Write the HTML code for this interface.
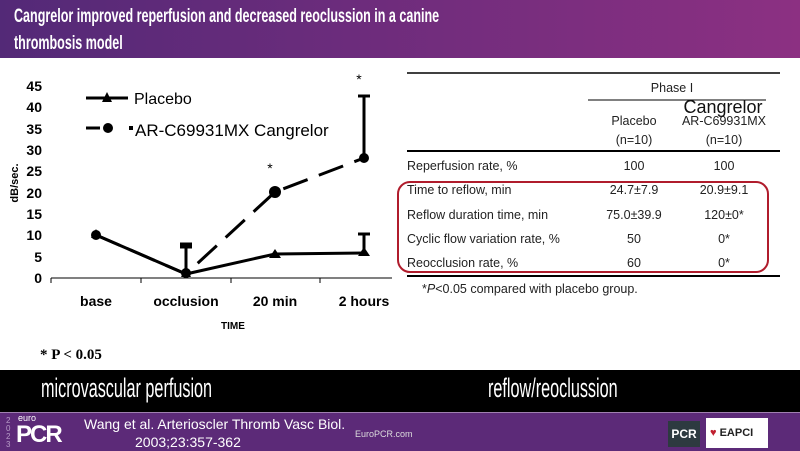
<!DOCTYPE html>
<html><head><style>
body{margin:0;width:800px;height:450px;position:relative;overflow:hidden;background:#fff;font-family:"Liberation Sans",sans-serif}
.hdr{position:absolute;left:0;top:0;width:800px;height:58px;background:linear-gradient(90deg,#532977,#8c3082)}
.hdr div{position:absolute;left:14px;top:3px;color:#fff;font-weight:bold;font-size:19px;line-height:27px;transform:scaleX(0.66);transform-origin:0 0;white-space:nowrap}
.blk{position:absolute;left:0;top:370px;width:800px;height:42px;background:#000;color:#fff;font-size:27px}
.blk t{transform:scaleX(0.6);transform-origin:0 0;white-space:nowrap}
.ftr{position:absolute;left:0;top:412px;width:800px;height:38px;background:#5c2a78;border-top:1px solid #a080b0}
t{position:absolute}
</style></head><body>
<div class="hdr"><div>Cangrelor improved reperfusion and decreased reoclussion in a canine<br>thrombosis model</div></div>
<svg style="position:absolute;left:0;top:0" width="800" height="370">
<g font-family="Liberation Sans" font-weight="bold" font-size="14" text-anchor="end">
<text x="42" y="283">0</text><text x="42" y="262">5</text><text x="42" y="240">10</text><text x="42" y="219">15</text><text x="42" y="198">20</text><text x="42" y="176">25</text><text x="42" y="155">30</text><text x="42" y="134">35</text><text x="42" y="112">40</text><text x="42" y="91">45</text>
</g>
<text transform="translate(18,183) rotate(-90)" font-size="11" font-weight="bold" text-anchor="middle">dB/sec.</text>
<line x1="51" y1="278" x2="392" y2="278" stroke="#000" stroke-width="1"/>
<g stroke="#000"><line x1="51" y1="278" x2="51" y2="283"/><line x1="141" y1="278" x2="141" y2="283"/><line x1="231" y1="278" x2="231" y2="283"/><line x1="320" y1="278" x2="320" y2="283"/></g>
<g font-size="14" font-weight="bold" text-anchor="middle"><text x="96" y="306">base</text><text x="186" y="306">occlusion</text><text x="275" y="306">20 min</text><text x="364" y="306">2 hours</text></g>
<text x="233" y="329" font-size="10" font-weight="bold" text-anchor="middle">TIME</text>
<g stroke="#000" stroke-width="3" fill="none">
<line x1="186" y1="274" x2="186" y2="244"/><line x1="180" y1="244" x2="192" y2="244"/><line x1="180" y1="247" x2="192" y2="247"/>
<line x1="364" y1="158" x2="364" y2="96"/><line x1="358" y1="96" x2="370" y2="96"/>
<line x1="364" y1="253" x2="364" y2="234"/><line x1="358" y1="234" x2="370" y2="234"/>
<polyline points="96,235 186,274 275,254 364,253"/>
<polyline points="96,235 186,274 275,192 364,158" stroke-dasharray="26,12"/>
<line x1="86" y1="98" x2="128" y2="98"/>
<line x1="86" y1="128" x2="100" y2="128"/>
</g>
<g fill="#000"><circle cx="96" cy="235" r="5"/><circle cx="186" cy="273" r="5"/><circle cx="275" cy="192" r="6"/><circle cx="364" cy="158" r="5"/><circle cx="108" cy="128" r="5"/>
<polygon points="96,229 101,238 91,238"/><polygon points="186,268 191,277 181,277"/><polygon points="275,249 281,258 269,258"/><polygon points="364,247 370,256 358,256"/><polygon points="107,92 112,102 102,102"/>
<rect x="129" y="126" width="4" height="4"/></g>
<text x="134" y="104" font-size="16">Placebo</text>
<text x="135" y="136" font-size="17" font-family="Liberation Sans">AR-C69931MX Cangrelor</text>
<text x="270" y="173" font-size="14" text-anchor="middle">*</text><text x="359" y="84" font-size="14" text-anchor="middle">*</text>
<text x="40" y="359" font-family="Liberation Serif" font-weight="bold" font-size="15">* P &lt; 0.05</text>
<g stroke="#000"><line x1="407" y1="73" x2="780" y2="73" stroke-width="1.5"/><line x1="588" y1="100" x2="766" y2="100"/><line x1="407" y1="151" x2="780" y2="151" stroke-width="2"/><line x1="407" y1="276" x2="780" y2="276" stroke-width="2"/></g>
<g font-size="12.5" fill="#222" font-family="Liberation Sans">
<text x="672" y="92" text-anchor="middle">Phase I</text>
<text x="634" y="125" text-anchor="middle">Placebo</text><text x="634" y="144" text-anchor="middle">(n=10)</text>
<text x="724" y="125" text-anchor="middle">AR-C69931MX</text><text x="724" y="144" text-anchor="middle">(n=10)</text>
<text x="407" y="170">Reperfusion rate, %</text><text x="634" y="170" text-anchor="middle">100</text><text x="724" y="170" text-anchor="middle">100</text>
<text x="407" y="194">Time to reflow, min</text><text x="634" y="194" text-anchor="middle">24.7±7.9</text><text x="724" y="194" text-anchor="middle">20.9±9.1</text>
<text x="407" y="219">Reflow duration time, min</text><text x="634" y="219" text-anchor="middle">75.0±39.9</text><text x="724" y="219" text-anchor="middle">120±0*</text>
<text x="407" y="243">Cyclic flow variation rate, %</text><text x="634" y="243" text-anchor="middle">50</text><text x="724" y="243" text-anchor="middle">0*</text>
<text x="407" y="267">Reocclusion rate, %</text><text x="634" y="267" text-anchor="middle">60</text><text x="724" y="267" text-anchor="middle">0*</text>
<text x="422" y="293">*<tspan font-style="italic">P</tspan>&lt;0.05 compared with placebo group.</text>
</g>
<text x="723" y="113" font-size="18" text-anchor="middle" fill="#111">Cangrelor</text>
<rect x="398" y="182" width="370" height="90" rx="12" fill="none" stroke="#b01c2c" stroke-width="2"/>
</svg>
<div class="blk"><t style="left:41px;top:3px">microvascular perfusion</t><t style="left:488px;top:3px">reflow/reoclussion</t></div>
<div class="ftr">
<t style="left:6px;top:4px;color:#b89cc8;font-size:8px;line-height:8px;width:8px">2<br>0<br>2<br>3</t>
<t style="left:18px;top:0px;color:#fff;font-size:9px">euro</t>
<t style="left:16px;top:8px;color:#fff;font-size:24px;font-weight:bold;letter-spacing:-2px">PCR</t>
<t style="left:84px;top:3px;color:#fff;font-size:14px">Wang et al. Arterioscler Thromb Vasc Biol.</t>
<t style="left:135px;top:21px;color:#fff;font-size:14px">2003;23:357-362</t>
<t style="left:355px;top:16px;color:#ddd;font-size:9px">EuroPCR.com</t>
<div style="position:absolute;left:668px;top:8px;width:32px;height:26px;background:#2d3a40;color:#fff;font-weight:bold;font-size:12px;text-align:center;line-height:26px">PCR</div>
<div style="position:absolute;left:706px;top:5px;width:62px;height:30px;background:#fff;color:#222;font-weight:bold;font-size:11px;line-height:30px"><span style="color:#c02030;margin-left:4px">♥</span> EAPCI</div>
</div>
</body></html>
